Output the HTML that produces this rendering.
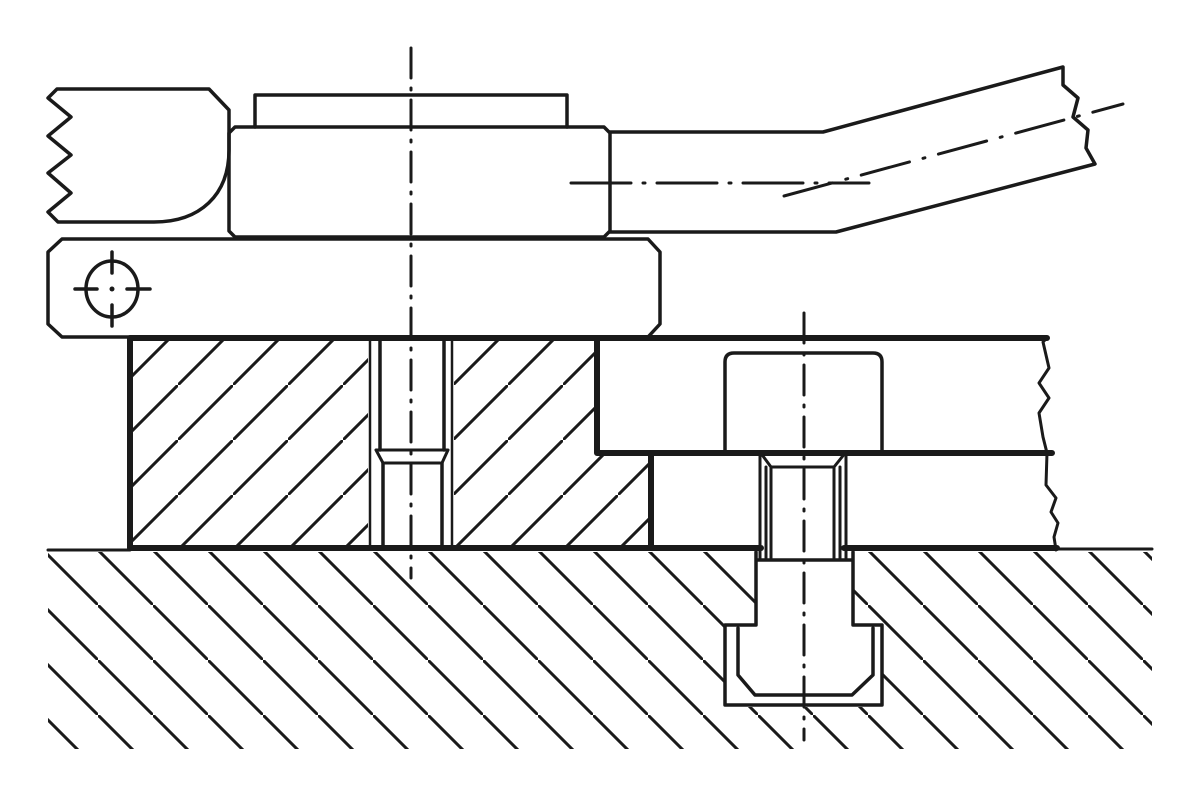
<!DOCTYPE html>
<html><head><meta charset="utf-8"><style>html,body{margin:0;padding:0;background:#fff;width:1200px;height:801px;overflow:hidden}svg{display:block}</style></head>
<body>
<svg width="1200" height="801" viewBox="0 0 1200 801" xmlns="http://www.w3.org/2000/svg">
<defs>
<pattern id="gp" patternUnits="userSpaceOnUse" x="43" y="0" width="55" height="55">
<path d="M-5 -5 L60 60" stroke="#1a1a1a" stroke-width="3"/>
</pattern>
<pattern id="bp" patternUnits="userSpaceOnUse" x="13" y="0" width="55" height="55">
<path d="M-5 60 L60 -5" stroke="#1a1a1a" stroke-width="3"/>
</pattern>
</defs>
<path d="M48 552 H1152 V749 H48 Z M756 552 V625 H725 V707 H882 V625 H853 V552 Z" fill="url(#gp)" fill-rule="evenodd"/>
<path d="M130 338 H597 V453 H651 V548 H130 Z M368 338 H454 V548 H368 Z" fill="url(#bp)" fill-rule="evenodd"/>
<g fill="none" stroke="#1a1a1a" stroke-linejoin="round" stroke-linecap="round">
<path d="M48 550 H130 M1057 549 H1152" stroke-width="3"/>
<path d="M58 222 L48 212 L71 193 L48 173 L71 155 L48 136 L71 117 L48 98 L57 89 L209 89 L229 110 L229 150 C229 195 200 222 154 222 Z" stroke-width="3.5"/>
<path d="M255 127 V95 H567 V127" stroke-width="3.5"/>
<path d="M235 127 H604 L610 133 V231 L604 237 H235 L229 231 V133 Z" stroke-width="3.5"/>
<path d="M610 132 H823 L1063 67 V85 L1078 98 L1073 117 L1088 130 L1086 148 L1095 164 L836 232 H610" stroke-width="3.5"/>
<path d="M62 239 H648 L660 252 V324 L648 337 H62 L48 324 V252 Z" stroke-width="3.5"/>
<ellipse cx="112" cy="289" rx="26" ry="28" stroke-width="3.5"/>
<path d="M75 289 H97 M127 289 H150 M112 252 V273 M112 305 V326" stroke-width="3.5"/>
<circle cx="112" cy="289" r="2.5" fill="#1a1a1a" stroke="none"/>
<path d="M130 338 H1047 M130 338 V548 H761 M844 548 H1057 M597 338 V453 H1052 M651 453 V548" stroke-width="6"/>
<path d="M370 338 V548 M452 338 V548" stroke-width="2.5"/>
<path d="M380 338 V450 M444 338 V450 M383 463 V548 M442 463 V548" stroke-width="3.5"/>
<path d="M376 450 H448 M385 463 H440 M376 450 L383 463 M448 450 L442 463" stroke-width="3"/>
<path d="M1047 338 L1043 342 L1049 368 L1039 383 L1049 398 L1039 413 L1043 437 L1047 453 L1046 485 L1056 498 L1051 512 L1058 523 L1054 537 L1056 550" stroke-width="3"/>
<path d="M725 453 V362 Q725 353 734 353 H873 Q882 353 882 362 V453" stroke-width="3.5"/>
<path d="M760 453 V558 M766 467 V558 M771 467 V558 M834 467 V558 M840 467 V558 M846 453 V558" stroke-width="3"/>
<path d="M760 452 L771 467 H834 L846 452" stroke-width="3"/>
<path d="M756 552 V625 H725 V705 H882 V625 H853 V552 M756 560 H853" stroke-width="3.5"/>
<path d="M738 628 V675 L755 695 H852 L873 675 V628" stroke-width="3.5"/>
<path d="M411 48 V578" stroke-width="3" stroke-dasharray="30 10 2 10"/>
<path d="M804 313 V740" stroke-width="3" stroke-dasharray="30 10 2 10"/>
<path d="M571 183 H869" stroke-width="3" stroke-dasharray="60 12 2 12"/>
<path d="M784 196 L1123 104" stroke-width="3" stroke-dasharray="50 14 2 14"/>
</g>
</svg>
</body></html>
